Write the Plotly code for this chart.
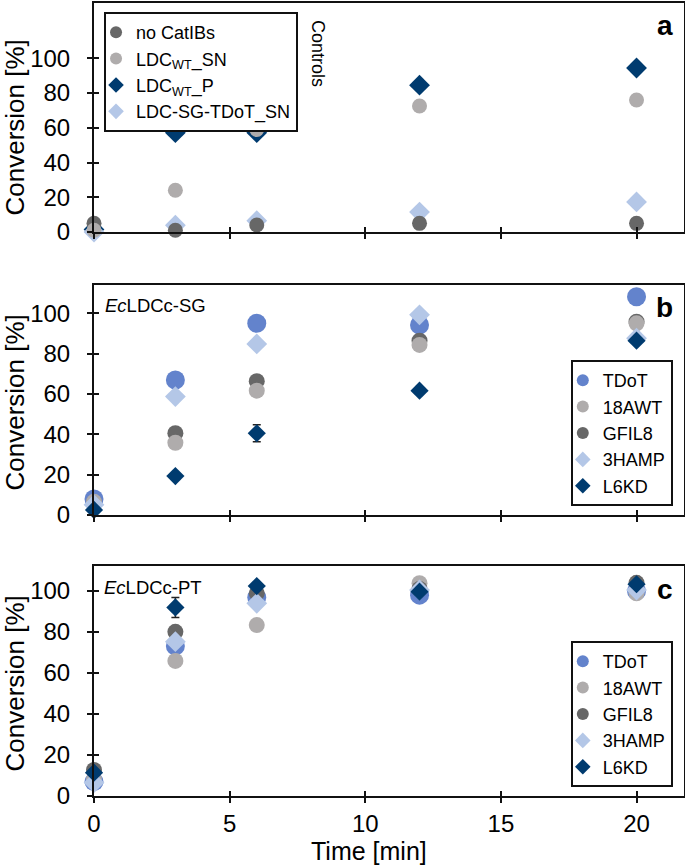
import plotly.graph_objects as go

# ---------------- data ----------------
time_min = [0, 3, 6, 12, 20]
x_ticks = [0, 5, 10, 15, 20]
y_ticks = [0, 20, 40, 60, 80, 100]

# Panel a - controls
a_no_catibs = [5, 1, 4, 5, 5]
a_ldcwt_sn = [1, 24, 59, 72.5, 76]
a_ldcwt_p = [1.5, 57.2, 57.2, 84.5, 94.4]
a_ldc_sg_tdot_sn = [0, 3.9, 6.5, 11.5, 17.3]

# Panel b - EcLDCc-SG
b_tdot = [7.9, 66.9, 95, 94.2, 108.2]
b_18awt = [6.5, 35.8, 61.6, 84.3, 95]
b_gfil8 = [6, 40.5, 66.3, 86.4, 95.8]
b_3hamp = [5, 58.7, 84.8, 99.2, 87.6]
b_l6kd = [2.5, 19.3, 40.5, 61.6, 86.4]
b_l6kd_err = [0, 0, 4.2, 0, 0]

# Panel c - EcLDCc-PT
c_tdot = [7, 73.2, 96.9, 98, 100]
c_18awt = [8, 65.9, 83.4, 103.8, 98.9]
c_gfil8 = [12.7, 80.1, 98.9, 101, 104]
c_3hamp = [6.5, 75.3, 94, 100.5, 100.5]
c_l6kd = [11.4, 92, 102.4, 99.7, 103.3]
c_l6kd_err = [0, 4.9, 0, 0, 0]

# ---------------- styles ----------------
C_MID = "#6383CC"
C_LGRAY = "#AFACAC"
C_DGRAY = "#676767"
C_LBLUE = "#B4C7E7"
C_NAVY = "#003B6F"
FONT = "Liberation Sans, Arial, sans-serif"

fig = go.Figure()


def add(x, y, name, color, symbol, size, xa, ya, legend, rank, err=None):
    kw = {}
    if err is not None:
        kw["error_y"] = dict(type="data", array=err, visible=True,
                             color="#222222", thickness=1.5, width=4)
    fig.add_trace(go.Scatter(
        x=x, y=y, name=name, mode="markers",
        marker=dict(color=color, symbol=symbol, size=size, line=dict(width=0)),
        xaxis=xa, yaxis=ya, legend=legend, legendrank=rank,
        cliponaxis=False, **kw))


# panel a (drawing order chosen for overlap; legend order via rank)
add(time_min, a_ldcwt_p, "LDC<sub>WT</sub>_P", C_NAVY, "diamond", 16, "x", "y", "legend", 3)
add(time_min, a_ldc_sg_tdot_sn, "LDC-SG-TDoT_SN", C_LBLUE, "diamond", 16, "x", "y", "legend", 4)
add(time_min, a_no_catibs, "no CatIBs", C_DGRAY, "circle", 15, "x", "y", "legend", 1)
add(time_min, a_ldcwt_sn, "LDC<sub>WT</sub>_SN", C_LGRAY, "circle", 15, "x", "y", "legend", 2)

# panel b
add(time_min, b_tdot, "TDoT", C_MID, "circle", 19, "x2", "y2", "legend2", 1)
add(time_min, b_gfil8, "GFIL8", C_DGRAY, "circle", 16, "x2", "y2", "legend2", 3)
add(time_min, b_18awt, "18AWT", C_LGRAY, "circle", 16, "x2", "y2", "legend2", 2)
add(time_min, b_3hamp, "3HAMP", C_LBLUE, "diamond", 16, "x2", "y2", "legend2", 4)
add(time_min, b_l6kd, "L6KD", C_NAVY, "diamond", 14, "x2", "y2", "legend2", 5, b_l6kd_err)

# panel c
add(time_min, c_tdot, "TDoT", C_MID, "circle", 19, "x3", "y3", "legend3", 1)
add(time_min, c_18awt, "18AWT", C_LGRAY, "circle", 16, "x3", "y3", "legend3", 2)
add(time_min, c_gfil8, "GFIL8", C_DGRAY, "circle", 16, "x3", "y3", "legend3", 3)
add(time_min, c_3hamp, "3HAMP", C_LBLUE, "diamond", 16, "x3", "y3", "legend3", 4)
add(time_min, c_l6kd, "L6KD", C_NAVY, "diamond", 14, "x3", "y3", "legend3", 5, c_l6kd_err)

# empty traces for overlay (inside-tick) axes
for i in (4, 5, 6):
    fig.add_trace(go.Scatter(x=[], y=[], xaxis=f"x{i}", yaxis=f"y{i}",
                             showlegend=False, hoverinfo="skip"))

X_RANGE = [0, 21.75]
y_ranges = {1: [0, 131.8], 2: [0, 114.0], 3: [0, 112.2]}
domains = {1: [0.7112, 1.0], 2: [0.3544, 0.6444], 3: [0.0, 0.29]}

layout = dict(
    template="none",
    width=685, height=867,
    margin=dict(l=94, r=1, t=3, b=71, pad=0),
    paper_bgcolor="white", plot_bgcolor="white",
    font=dict(family=FONT, size=24, color="black"),
    showlegend=True,
)

for i in (1, 2, 3):
    xs = "" if i == 1 else str(i)
    layout[f"xaxis{xs}"] = dict(
        domain=[0, 1], anchor=f"y{xs}", range=X_RANGE, automargin=False,
        tickvals=x_ticks, showticklabels=(i == 3),
        ticks="outside", ticklen=5, tickwidth=2, tickcolor="#111",
        showline=True, linecolor="#111", linewidth=2, mirror=True,
        showgrid=False, zeroline=False,
        tickfont=dict(size=24), ticklabelstandoff=0,
    )
    layout[f"yaxis{xs}"] = dict(
        domain=domains[i], anchor=f"x{xs}", range=y_ranges[i], automargin=False,
        tickvals=y_ticks, ticks="outside", ticklen=5, tickwidth=2, tickcolor="#111",
        showline=True, linecolor="#111", linewidth=2, mirror=True,
        showgrid=False, zeroline=False,
        tickfont=dict(size=24), ticklabelstandoff=12,
    )
    o = i + 3
    layout[f"xaxis{o}"] = dict(
        overlaying=f"x{xs}", anchor=f"y{o}", range=X_RANGE, automargin=False,
        tickvals=x_ticks, showticklabels=False,
        ticks="inside", ticklen=5, tickwidth=2, tickcolor="#111",
        showline=False, showgrid=False, zeroline=False,
    )
    layout[f"yaxis{o}"] = dict(
        overlaying=f"y{xs}", anchor=f"x{o}", range=y_ranges[i], automargin=False,
        tickvals=y_ticks, showticklabels=False,
        ticks="inside", ticklen=5, tickwidth=2, tickcolor="#111",
        showline=False, showgrid=False, zeroline=False,
    )

leg_common = dict(bgcolor="white", bordercolor="#111", borderwidth=2,
                  font=dict(family=FONT, size=18, color="black"),
                  itemsizing="constant", tracegroupgap=0, indentation=-10)
layout["legend"] = dict(x=0.017, y=0.9887, xanchor="left", yanchor="top", **leg_common)
layout["legend2"] = dict(x=0.981, y=0.3657, xanchor="right", yanchor="bottom", **leg_common)
layout["legend3"] = dict(x=0.981, y=0.01135, xanchor="right", yanchor="bottom", **leg_common)

annotations = [
    dict(text="<b>a</b>", x=0.985, y=0.972, xanchor="right", yanchor="middle",
         font=dict(size=28)),
    dict(text="<b>b</b>", x=0.985, y=0.6166, xanchor="right", yanchor="middle",
         font=dict(size=28)),
    dict(text="<b>c</b>", x=0.985, y=0.2604, xanchor="right", yanchor="middle",
         font=dict(size=28)),
    dict(text="Controls", x=0.3797, y=0.937, xanchor="center", yanchor="middle",
         textangle=90, font=dict(size=18)),
    dict(text="<i>Ec</i>LDCc-SG", x=0.0153, y=0.618, xanchor="left", yanchor="middle",
         font=dict(size=18.5)),
    dict(text="<i>Ec</i>LDCc-PT", x=0.0136, y=0.2623, xanchor="left", yanchor="middle",
         font=dict(size=18.5)),
    dict(text="Conversion [%]", x=-0.1347, y=(796 - 128) / 793, xanchor="center",
         yanchor="middle", textangle=-90, font=dict(size=26)),
    dict(text="Conversion [%]", x=-0.1347, y=(796 - 403) / 793, xanchor="center",
         yanchor="middle", textangle=-90, font=dict(size=26)),
    dict(text="Conversion [%]", x=-0.1347, y=(796 - 684) / 793, xanchor="center",
         yanchor="middle", textangle=-90, font=dict(size=26)),
    dict(text="Time [min]", x=0.466, y=-0.0694, xanchor="center", yanchor="middle",
         font=dict(size=25)),
]
for a in annotations:
    a.update(xref="paper", yref="paper", showarrow=False)
layout["annotations"] = annotations

fig.update_layout(**layout)
fig.write_html("out.html",
               config={"displayModeBar": False},
               post_script="document.body.style.margin='0';"
                           "document.body.style.overflow='hidden';")
